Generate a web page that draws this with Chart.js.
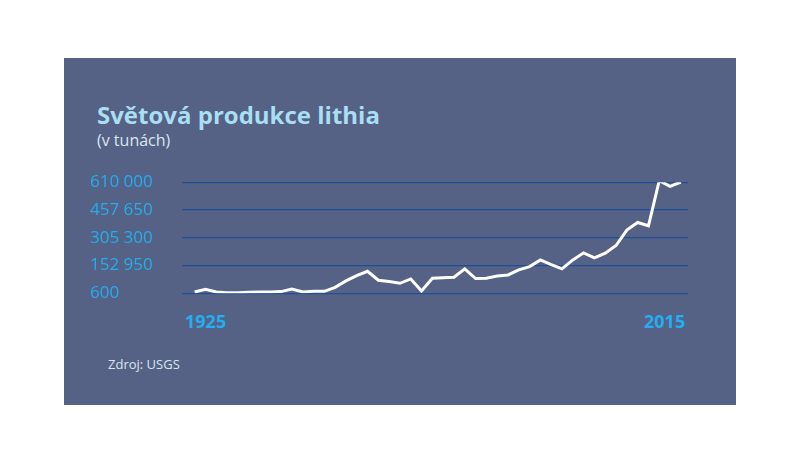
<!DOCTYPE html>
<html><head><meta charset="utf-8">
<script src="https://cdn.jsdelivr.net/npm/chart.js@4.4.0/dist/chart.umd.min.js"></script>
<style>
  body { margin:0; background:#fff; width:800px; height:449px; position:relative; font-family:'Open Sans',sans-serif; }
  #panel { position:absolute; left:64px; top:58px; width:672px; height:347px; background:#556285; }
  .t { position:absolute; white-space:nowrap; }
  #title { left:97px; top:98px; font-size:24px; font-weight:700; color:#a9def3; }
  #sub { left:97px; top:129px; font-size:16px; color:#d8e6f2; }
  .yr { top:309px; font-size:18px; font-weight:700; color:#22aef0; }
  #src { left:108px; top:355px; font-size:13px; color:#d8e6f2; }
  #wrap { position:absolute; left:90px; top:170px; width:610px; height:135px; }
</style></head><body>
<div id="panel"></div>
<div class="t" id="title">Světová produkce lithia</div>
<div class="t" id="sub">(v tunách)</div>
<div class="t yr" style="left:185px">1925</div>
<div class="t yr" style="left:644px">2015</div>
<div class="t" id="src">Zdroj: USGS</div>
<div id="wrap"><canvas id="c"></canvas></div>
<script>
const years = [1925,1927,1929,1931,1933,1935,1937,1939,1941,1943,1945,1947,1949,1951,1953,1955,1957,1959,1961,1963,1965,1967,
  1969,1971,1973,1975,1977,1979,1981,1983,1985,1987,1989,1991,1993,1995,1997,1999,2001,2003,2005,2007,2009,2011,2013,2015];
const production = [7940,22620,7940,4270,4270,6100,7940,7940,9800,24500,7940,11600,11600,33600,68500,97900,121700,72200,64800,55650,79500,13450,
  83200,86000,88700,134600,81350,83200,96000,101500,129000,147400,184100,158400,134600,184100,222600,195100,220800,263000,347400,389600,371300,619000,588000,611700];
const yTicks = [600,152950,305300,457650,610000];

const fmt = v => String(v).replace(/\B(?=(\d{3})+(?!\d))/g, ' ');

new Chart(document.getElementById('c'), {
  type: 'line',
  data: { datasets: [{ data: years.map((y,i) => ({ x:i, y:production[i] })),
    borderColor:'#ffffff', borderWidth:3, pointRadius:0, tension:0, fill:false }] },
  options: {
    responsive:true, maintainAspectRatio:false, animation:false,
    layout: { padding: { top:12.3, bottom:11.7, right:12 } },
    plugins: { legend:{ display:false }, tooltip:{ enabled:false } },
    scales: {
      x: { type:'linear', display:false, min:-1.17, max:45.66 },
      y: { min:600, max:610000,
        afterBuildTicks: s => { s.ticks = yTicks.map(v => ({ value:v })); },
        afterFit: s => { s.width = 92; },
        border: { display:false },
        grid: { color:'#1f4f9a', lineWidth:1.2, drawTicks:false },
        ticks: { crossAlign:'far', padding:0, color:'#22aef0', font:{ family:'Open Sans', size:17 }, callback: v => fmt(v) } }
    }
  }
});
</script>
</body></html>
